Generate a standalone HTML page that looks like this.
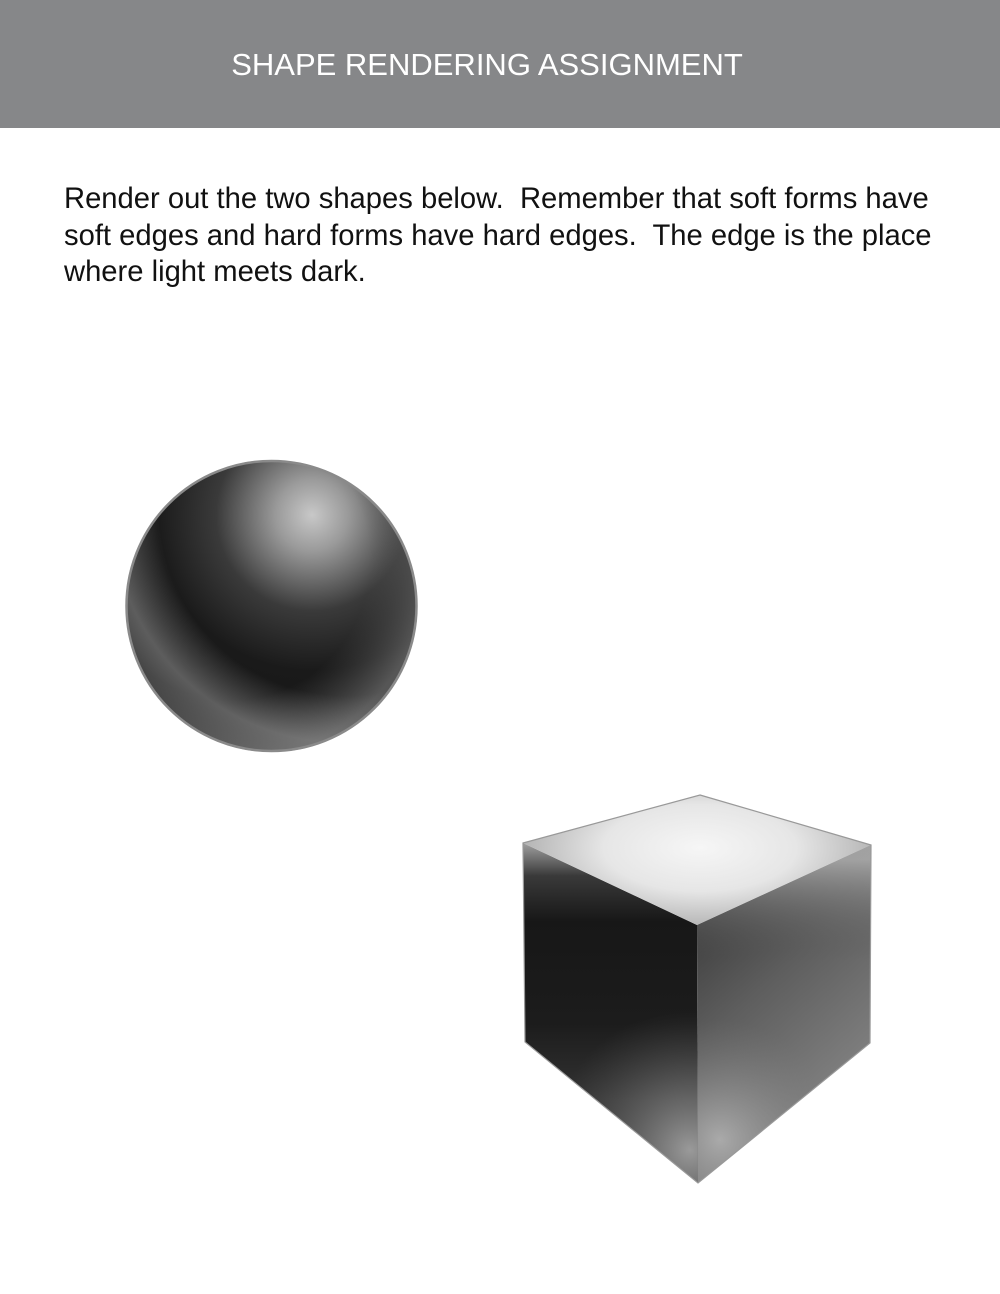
<!DOCTYPE html>
<html><head><meta charset="utf-8"><style>
html,body{margin:0;padding:0;background:#fff;width:1000px;height:1294px;overflow:hidden;font-family:"Liberation Sans",Arial,sans-serif}
#hdr{position:absolute;left:0;top:0;width:1000px;height:128px;background:#868789}
#ttl{position:absolute;left:0;width:974px;top:47px;text-align:center;color:#fff;font-size:31px}
#txt{position:absolute;left:64px;top:181px;width:940px;font-size:29.2px;line-height:36.5px;color:#111;white-space:nowrap}
svg{position:absolute;left:0;top:0}
</style></head><body>
<div id="hdr"><div id="ttl">SHAPE RENDERING ASSIGNMENT</div></div>
<div id="txt">Render out the two shapes below.&nbsp; Remember that soft forms have<br>soft edges and hard forms have hard edges.&nbsp; The edge is the place<br>where light meets dark.</div>
<svg width="1000" height="1294">
<defs>
<radialGradient id="sg" gradientUnits="userSpaceOnUse" cx="312" cy="515" r="240">
<stop offset="0" stop-color="#c8c8c8"/><stop offset="0.15" stop-color="#9a9a9a"/><stop offset="0.4" stop-color="#3a3a3a"/><stop offset="0.65" stop-color="#1a1a1a"/><stop offset="1" stop-color="#141414"/></radialGradient>
<radialGradient id="sr" gradientUnits="userSpaceOnUse" cx="345" cy="510" r="265">
<stop offset="0.7" stop-color="#888" stop-opacity="0"/><stop offset="0.88" stop-color="#8c8c8c" stop-opacity="0.6"/><stop offset="1" stop-color="#8c8c8c" stop-opacity="0.35"/></radialGradient>
<radialGradient id="sr2" gradientUnits="userSpaceOnUse" cx="230" cy="560" r="200">
<stop offset="0.7" stop-color="#555" stop-opacity="0"/><stop offset="1" stop-color="#666" stop-opacity="0.8"/></radialGradient>
<clipPath id="sc"><circle cx="271.5" cy="606" r="146"/></clipPath>
<linearGradient id="lf" gradientUnits="userSpaceOnUse" x1="0" y1="845" x2="0" y2="1100">
<stop offset="0" stop-color="#9a9a9a"/><stop offset="0.12" stop-color="#3a3a3a"/><stop offset="0.3" stop-color="#171717"/><stop offset="0.7" stop-color="#1c1c1c"/><stop offset="1" stop-color="#333"/></linearGradient>
<radialGradient id="lfl" gradientUnits="userSpaceOnUse" cx="690" cy="1150" r="140">
<stop offset="0" stop-color="#9a9a9a" stop-opacity="1"/><stop offset="1" stop-color="#555" stop-opacity="0"/></radialGradient>
<linearGradient id="rf" gradientUnits="userSpaceOnUse" x1="700" y1="900" x2="880" y2="1100">
<stop offset="0" stop-color="#3a3a3a"/><stop offset="0.4" stop-color="#5e5e5e"/><stop offset="1" stop-color="#8a8a8a"/></linearGradient>
<linearGradient id="rft" gradientUnits="userSpaceOnUse" x1="0" y1="860" x2="0" y2="960">
<stop offset="0" stop-color="#aaa" stop-opacity="0.9"/><stop offset="1" stop-color="#555" stop-opacity="0"/></linearGradient>
<radialGradient id="rfl" gradientUnits="userSpaceOnUse" cx="720" cy="1140" r="120">
<stop offset="0" stop-color="#aaa"/><stop offset="1" stop-color="#777" stop-opacity="0"/></radialGradient>
<radialGradient id="tf" gradientUnits="userSpaceOnUse" cx="700" cy="848" r="175" gradientTransform="translate(700 848) scale(1 0.45) translate(-700 -848)">
<stop offset="0" stop-color="#f6f6f6"/><stop offset="0.55" stop-color="#e6e6e6"/><stop offset="1" stop-color="#b5b5b5"/></radialGradient>
</defs>
<g clip-path="url(#sc)">
<circle cx="271.5" cy="606" r="146" fill="url(#sg)"/>
<circle cx="271.5" cy="606" r="146" fill="url(#sr2)"/>
<circle cx="271.5" cy="606" r="146" fill="url(#sr)"/>
</g>
<circle cx="271.5" cy="606" r="145" fill="none" stroke="#8a8a8a" stroke-width="2.5"/>
<g>
<polygon points="523,843 697,925 698,1183 525,1042" fill="url(#lf)"/>
<polygon points="523,843 697,925 698,1183 525,1042" fill="url(#lfl)"/>
<polygon points="697,925 871,845 870,1043 698,1183" fill="url(#rf)"/>
<polygon points="697,925 871,845 870,1043 698,1183" fill="url(#rft)"/>
<polygon points="697,925 871,845 870,1043 698,1183" fill="url(#rfl)"/>
<polygon points="523,843 700,795 871,845 697,925" fill="url(#tf)"/>
</g>
<polygon points="700,795 871,845 870,1043 698,1183 525,1042 523,843" fill="none" stroke="#999" stroke-width="1.2"/>
</svg>
</body></html>
